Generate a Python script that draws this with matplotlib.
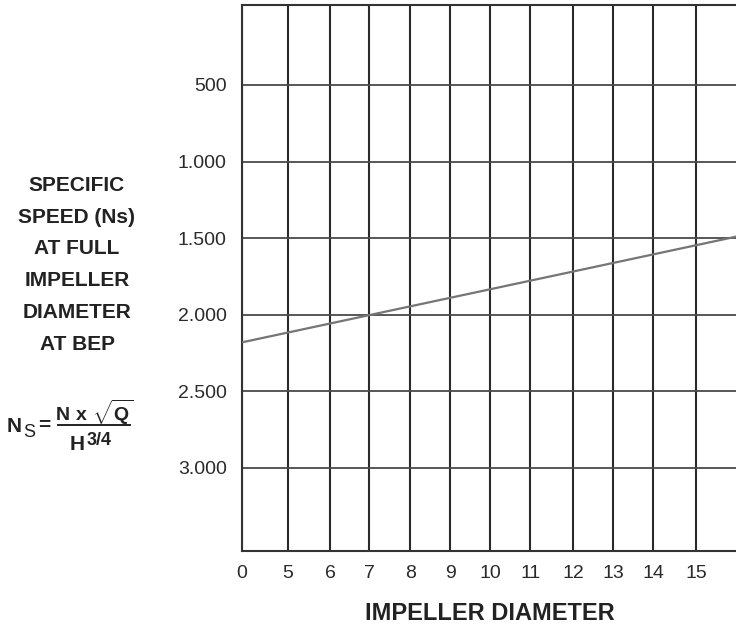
import matplotlib.pyplot as plt
from matplotlib.lines import Line2D

plt.rcParams['font.family'] = ['Liberation Sans', 'DejaVu Sans']
plt.rcParams['mathtext.fontset'] = 'custom'
plt.rcParams['mathtext.rm'] = 'Liberation Sans'
plt.rcParams['mathtext.bf'] = 'Liberation Sans:bold'

# x axis: impeller diameter ticks (positions, grid units)
diam_labels = ['0', '5', '6', '7', '8', '9', '10', '11', '12', '13', '14', '15']
diam_pos = [0, 1.11, 2.13, 3.08, 4.07, 5.04, 6.01, 6.98, 8.02, 8.99, 9.96, 11.0]

# y axis: specific speed ticks
ns_ticks = [500, 1000, 1500, 2000, 2500, 3000]
ns_labels = ['500', '1.000', '1.500', '2.000', '2.500', '3.000']

# the single line
line_x = [0, 12]
line_ns = [2180, 1488]

W, H = 736, 627
fig = plt.figure(figsize=(W / 100, H / 100), dpi=100)
ax = fig.add_axes([242 / W, 1 - 551 / H, 1 - 242 / W, (551 - 5) / H])

ax.plot(line_x, line_ns, color='#757575', lw=1.6, zorder=3)

ax.set_xlim(0, 11.96)
ax.set_ylim(3542, -22)
ax.set_xticks(diam_pos)
ax.set_xticklabels(diam_labels)
ax.set_yticks(ns_ticks)
ax.set_yticklabels(ns_labels)
ax.tick_params(length=0, labelsize=14, colors='#2a2a2a')
ax.tick_params(axis='y', pad=11)
ax.tick_params(axis='x', pad=10)

ax.grid(axis='x', color='#2a2a2a', lw=1.5)
ax.grid(axis='y', color='#4a4a4a', lw=1.3)
for s in ['left', 'top', 'bottom']:
    ax.spines[s].set_color('#333333')
    ax.spines[s].set_linewidth(1.5)
ax.spines['right'].set_visible(False)

# left label block
left_lines = ['SPECIFIC', 'SPEED (Ns)', 'AT FULL', 'IMPELLER', 'DIAMETER', 'AT BEP']
for i, t in enumerate(left_lines):
    fig.text(77 / W, 1 - (191 + 31.7 * i) / H, t, ha='center', va='baseline',
             fontsize=15, fontweight='bold', color='#222222')

# formula Ns = N x sqrt(Q) / H^(3/4)
fc = '#222222'
fig.text(7 / W, 1 - 432 / H, 'N', fontsize=15, fontweight='bold', color=fc, va='baseline')
fig.text(23 / W, 1 - 437 / H, 'S', fontsize=13, color=fc, va='baseline')
fig.text(38 / W, 1 - 431 / H, '=', fontsize=15, fontweight='bold', color=fc, va='baseline')
fig.text(94 / W, 1 - 421 / H, r'$\mathbf{N\ x\ }\sqrt{\mathbf{Q}}$', fontsize=14,
         color=fc, ha='center', va='baseline')
fig.add_artist(Line2D([58 / W, 130 / W], [1 - 425 / H, 1 - 425 / H],
                      transform=fig.transFigure, color=fc, lw=1.4))
fig.text(70 / W, 1 - 450 / H, 'H', fontsize=15, fontweight='bold', color=fc, va='baseline')
fig.text(87 / W, 1 - 445 / H, '3/4', fontsize=13, fontweight='bold', color=fc, va='baseline')

fig.text(490 / W, 1 - 620 / H, 'IMPELLER DIAMETER', ha='center', va='baseline',
         fontsize=17, fontweight='bold', color='#222222')

fig.savefig('out.png', dpi=100, facecolor='white')
